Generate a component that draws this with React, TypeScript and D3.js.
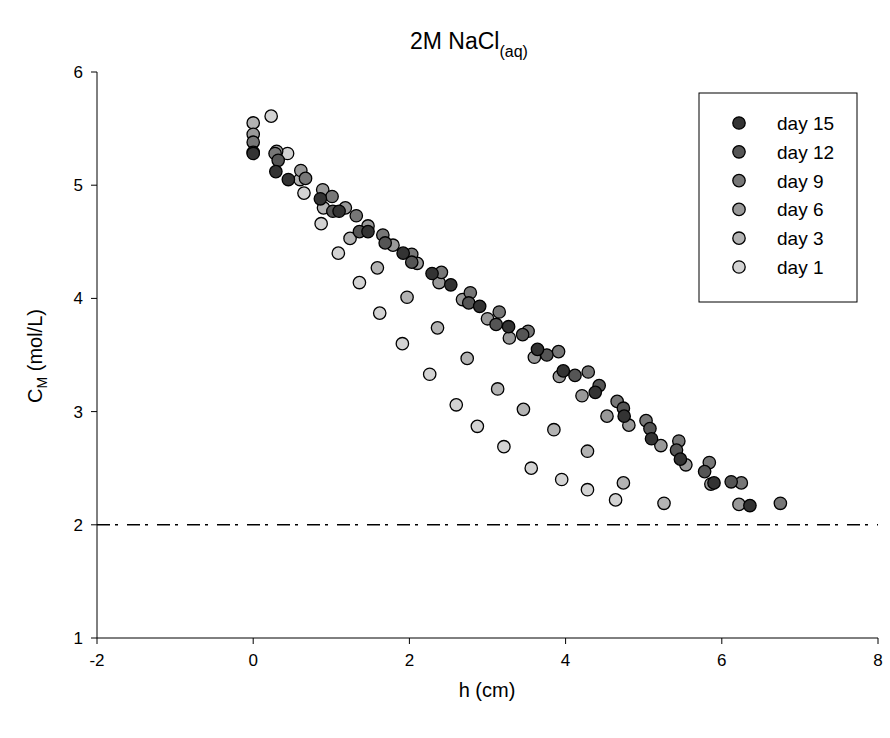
import React from "react";
import * as d3 from "d3";

const seriesNames = ["day 15", "day 12", "day 9", "day 6", "day 3", "day 1"];
const seriesColors = ["#333333", "#555555", "#777777", "#999999", "#b3b3b3", "#d3d3d3"];

const day15: [number, number][] = [[0, 5.28], [0.29, 5.12], [0.45, 5.05], [0.86, 4.88], [1.1, 4.77], [1.47, 4.59], [1.92, 4.4], [2.29, 4.22], [2.53, 4.12], [2.9, 3.93], [3.27, 3.75], [3.64, 3.55], [3.97, 3.36], [4.38, 3.17], [4.75, 2.96], [5.1, 2.76], [5.47, 2.58], [5.9, 2.37], [6.36, 2.17]];
const day12: [number, number][] = [[0, 5.29], [0.32, 5.22], [1.02, 4.77], [1.36, 4.59], [1.69, 4.49], [2.03, 4.32], [2.76, 3.96], [3.11, 3.77], [3.45, 3.68], [3.76, 3.5], [4.12, 3.32], [4.43, 3.23], [4.74, 3.03], [5.08, 2.85], [5.42, 2.66], [5.78, 2.47], [6.12, 2.38]];
const day9: [number, number][] = [[0, 5.38], [0.28, 5.28], [0.67, 5.06], [1.01, 4.9], [1.32, 4.73], [1.66, 4.56], [2.03, 4.39], [2.41, 4.23], [2.78, 4.05], [3.15, 3.88], [3.52, 3.71], [3.91, 3.53], [4.29, 3.35], [4.66, 3.09], [5.03, 2.92], [5.45, 2.74], [5.84, 2.55], [6.25, 2.37], [6.75, 2.19]];
const day6: [number, number][] = [[0, 5.45], [0.3, 5.3], [0.61, 5.13], [0.89, 4.96], [1.18, 4.8], [1.47, 4.64], [1.79, 4.47], [2.1, 4.31], [2.38, 4.14], [2.68, 3.99], [3.0, 3.82], [3.28, 3.65], [3.6, 3.48], [3.92, 3.31], [4.21, 3.14], [4.53, 2.96], [4.81, 2.88], [5.22, 2.7], [5.54, 2.53], [5.86, 2.36], [6.22, 2.18]];
const day3: [number, number][] = [[0, 5.55], [0.6, 5.05], [0.9, 4.8], [1.24, 4.53], [1.59, 4.27], [1.97, 4.01], [2.36, 3.74], [2.74, 3.47], [3.13, 3.2], [3.46, 3.02], [3.85, 2.84], [4.28, 2.65], [4.74, 2.37], [5.26, 2.19]];
const day1: [number, number][] = [[0.23, 5.61], [0.44, 5.28], [0.65, 4.93], [0.87, 4.66], [1.09, 4.4], [1.36, 4.14], [1.62, 3.87], [1.91, 3.6], [2.26, 3.33], [2.6, 3.06], [2.87, 2.87], [3.21, 2.69], [3.56, 2.5], [3.95, 2.4], [4.28, 2.31], [4.64, 2.22]];

const allSeries = [day15, day12, day9, day6, day3, day1];

const xTicks = [-2, 0, 2, 4, 6, 8];
const yTicks = [1, 2, 3, 4, 5, 6];
const refLine = 2;

const W = 890, H = 738;
const left = 97, right = 878, top = 72, bottom = 638;

export default function App() {
  const x = d3.scaleLinear().domain([-2, 8]).range([left, right]);
  const y = d3.scaleLinear().domain([1, 6]).range([bottom, top]);
  const font = "'Liberation Sans', Arial, sans-serif";
  const drawOrder = [5, 4, 3, 2, 1, 0];
  return (
    <svg width={W} height={H} style={{ position: "absolute", left: 0, top: 0, background: "#fff" }} fontFamily={font}>
      <rect x={0} y={0} width={W} height={H} fill="#fff" />
      {/* title */}
      <text x={410} y={49} textAnchor="start" fontSize={23} fill="#000">
        2M NaCl<tspan fontSize={16} dy={8}>(aq)</tspan>
      </text>
      {/* axes */}
      <line x1={left} x2={left} y1={top} y2={bottom} stroke="#000" strokeWidth={1} />
      <line x1={left} x2={right} y1={bottom} y2={bottom} stroke="#000" strokeWidth={1} />
      {yTicks.map((t) => (
        <g key={"y" + t}>
          <line x1={left - 6} x2={left} y1={y(t)} y2={y(t)} stroke="#000" />
          <text x={left - 14} y={y(t) + 6} textAnchor="end" fontSize={17} fill="#000">{t}</text>
        </g>
      ))}
      {xTicks.map((t) => (
        <g key={"x" + t}>
          <line x1={x(t)} x2={x(t)} y1={bottom} y2={bottom + 6} stroke="#000" />
          <text x={x(t)} y={bottom + 28} textAnchor="middle" fontSize={17} fill="#000">{t}</text>
        </g>
      ))}
      <text x={487} y={697} textAnchor="middle" fontSize={20} fill="#000">h (cm)</text>
      <text transform={`translate(42,${356}) rotate(-90)`} textAnchor="middle" fontSize={20} fill="#000">
        C<tspan fontSize={14} dy={5}>M</tspan><tspan dy={-5}> (mol/L)</tspan>
      </text>
      {/* reference line */}
      <line x1={left} x2={right} y1={y(refLine)} y2={y(refLine)} stroke="#000" strokeWidth={1.5} strokeDasharray="13,5,3,9" />
      {/* points */}
      {drawOrder.map((si) => (
        <g key={"s" + si}>
          {allSeries[si].map((d, i) => (
            <circle key={i} cx={x(d[0])} cy={y(d[1])} r={6.2} fill={seriesColors[si]} stroke="#000" strokeWidth={1.3} />
          ))}
        </g>
      ))}
      {/* legend */}
      <rect x={699} y={93} width={158} height={209} fill="#fff" stroke="#000" strokeWidth={1} />
      {seriesNames.map((n, i) => (
        <g key={n}>
          <circle cx={739} cy={123 + i * 28.8} r={6.2} fill={seriesColors[i]} stroke="#000" strokeWidth={1.3} />
          <text x={777} y={123 + i * 28.8 + 7} fontSize={19} fill="#000">{n}</text>
        </g>
      ))}
    </svg>
  );
}
